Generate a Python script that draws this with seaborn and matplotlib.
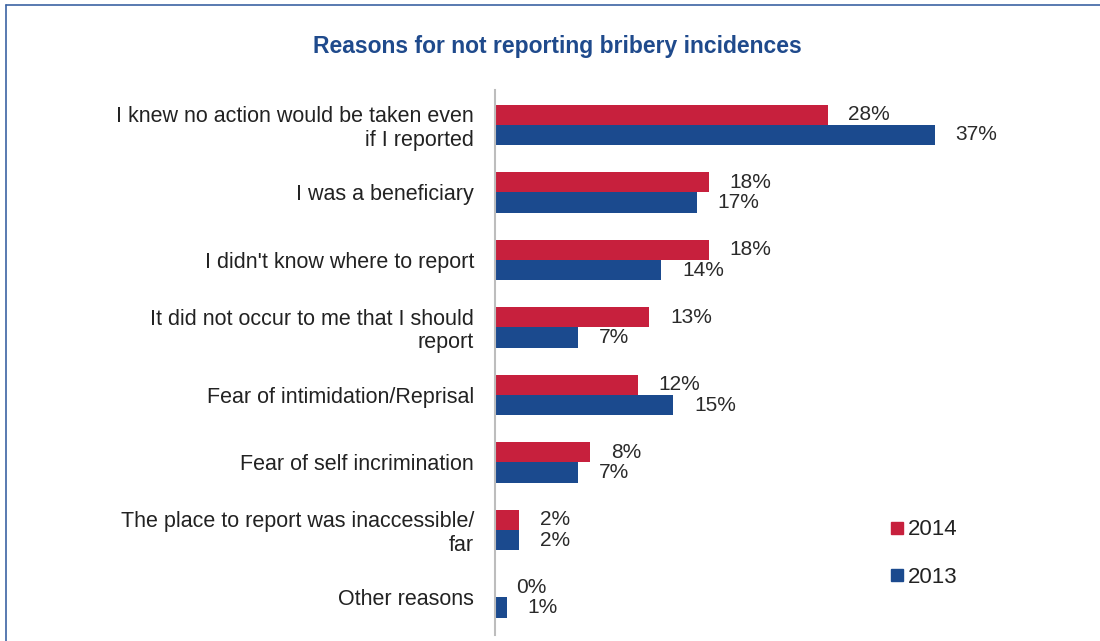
import matplotlib
matplotlib.use("Agg")
import matplotlib.pyplot as plt
from matplotlib.lines import Line2D
import seaborn as sns
import pandas as pd

reasons = [
    "I knew no action would be taken even\nif I reported",
    "I was a beneficiary",
    "I didn't know where to report",
    "It did not occur to me that I should\nreport",
    "Fear of intimidation/Reprisal",
    "Fear of self incrimination",
    "The place to report was inaccessible/\nfar",
    "Other reasons",
]
years = ["2014", "2013"]
values_2014 = [28, 18, 18, 13, 12, 8, 2, 0]
values_2013 = [37, 17, 14, 7, 15, 7, 2, 1]
colors = {"2014": "#c7203d", "2013": "#1b4a8e"}

df = pd.DataFrame({
    "reason": reasons * 2,
    "year": ["2014"] * len(reasons) + ["2013"] * len(reasons),
    "pct": values_2014 + values_2013,
})

sns.set_theme(style="white")
plt.rcParams["font.family"] = ["Liberation Sans", "DejaVu Sans"]

fig = plt.figure(figsize=(11, 6.41), dpi=100)
ax = fig.add_axes([0.45, 0.01, 0.54, 0.85])

sns.barplot(data=df, y="reason", x="pct", hue="year", hue_order=years,
            order=reasons, palette=colors, orient="h", width=0.6,
            saturation=1, linewidth=0, ax=ax, legend=False)

for cont in ax.containers:
    ax.bar_label(cont, fmt="%d%%", padding=15, fontsize=15, color="#2a2a2a")

ax.set_xlim(0, 50)
ax.set_ylim(7.55, -0.52)
ax.set_xlabel("")
ax.set_ylabel("")
ax.set_xticks([])
for s in ["top", "right", "bottom"]:
    ax.spines[s].set_visible(False)
ax.spines["left"].set_color("#bdbdbd")
ax.spines["left"].set_linewidth(1.5)
ax.tick_params(axis="y", length=0, pad=15, labelsize=15.5, labelcolor="#222222")
for lbl in ax.get_yticklabels():
    lbl.set_horizontalalignment("right")
    lbl.set_multialignment("right")
    lbl.set_linespacing(1.15)

handles = [Line2D([], [], marker="s", linestyle="none", markersize=8,
                  color=colors[y]) for y in years]
fig.legend(handles, years, loc="upper left", bbox_to_anchor=(0.79, 0.221),
           frameon=False, fontsize=16, handletextpad=0.15, labelspacing=1.2,
           handlelength=0.7, labelcolor="#222222")

fig.text(0.507, 0.928, "Reasons for not reporting bribery incidences",
         ha="center", va="center", fontsize=16.5, fontweight="bold",
         color="#1f4a8c")

# frame lines along the left and top edges
fig.add_artist(Line2D([6 / 1100, 6 / 1100], [0, 1 - 5 / 641],
                      transform=fig.transFigure, color="#3c63a3", lw=1.2))
fig.add_artist(Line2D([6 / 1100, 1], [1 - 5 / 641, 1 - 5 / 641],
                      transform=fig.transFigure, color="#3c63a3", lw=1.2))

fig.savefig("out.png", dpi=100)
